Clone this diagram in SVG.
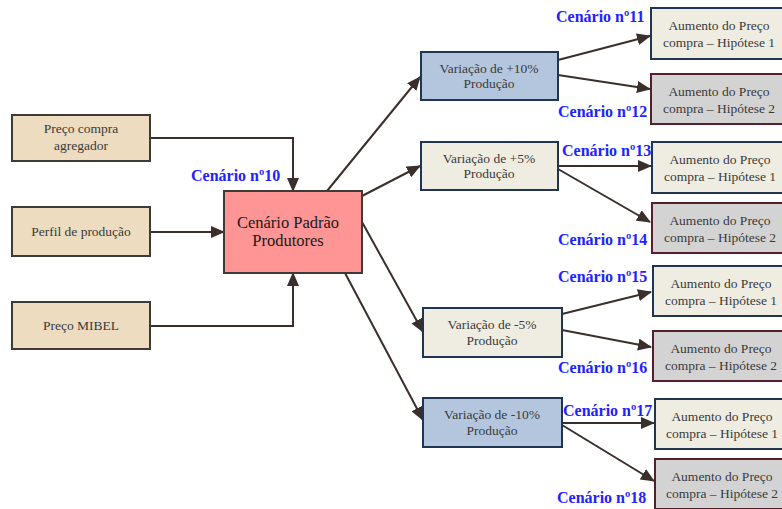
<svg xmlns="http://www.w3.org/2000/svg" width="782" height="509" viewBox="0 0 782 509">
  <defs>
    <marker id="arrow" markerUnits="userSpaceOnUse" markerWidth="14" markerHeight="12" viewBox="0 0 14 12" refX="13" refY="6" orient="auto">
      <path d="M0,0 L14,6 L0,12 Z" fill="#3a2f2a"/>
    </marker>
    <style>
      .input rect { fill: #eddcc0; stroke: #3e3a36; stroke-width: 2; }
      .core rect { fill: #ff9595; stroke: #3e3a36; stroke-width: 2; }
      .var-strong rect { fill: #b3c6de; stroke: #1f3553; stroke-width: 2; }
      .var-light rect { fill: #efede2; stroke: #1f3553; stroke-width: 2; }
      .hyp1 rect { fill: #efede2; stroke: #1f3553; stroke-width: 2; }
      .hyp2 rect { fill: #d4d3d3; stroke: #55202c; stroke-width: 2; }
      text { font-family: "Liberation Serif", "Times New Roman", serif; text-anchor: middle; }
      .lbl { font-size: 13.5px; fill: #3a3a3a; }
      .core-lbl { font-size: 16.5px; fill: #1a1a1a; }
      .sc { font-size: 16px; font-weight: bold; fill: #2222ff; text-anchor: start; }
      .links path { fill: none; stroke: #3a2f2a; stroke-width: 2; marker-end: url(#arrow); }
    </style>
  </defs>

  <rect width="782" height="509" fill="#ffffff"/>

  <!-- connectors -->
  <g class="links">
    <path d="M150,138 H293 V191"/>
    <path d="M150,232 H224"/>
    <path d="M150,326 H293 V273"/>
    <path d="M327,191 L420,77"/>
    <path d="M362,196 L420,166"/>
    <path d="M362,222 L423,332"/>
    <path d="M345,273 L423,420"/>
    <path d="M558,60 L650,36"/>
    <path d="M558,75 L650,89"/>
    <path d="M558,166 L651,166"/>
    <path d="M558,169 L650,222"/>
    <path d="M562,314 L651,292"/>
    <path d="M562,330 L651,347"/>
    <path d="M562,423 L654,423"/>
    <path d="M562,425 L654,481"/>
  </g>

  <!-- inputs -->
  <g id="preco-agregador" class="input">
    <rect x="12" y="115" width="138" height="46"/>
    <text class="lbl" x="81" y="133">Preço compra</text>
    <text class="lbl" x="81" y="150">agregador</text>
  </g>
  <g id="perfil-producao" class="input">
    <rect x="12" y="207" width="138" height="49"/>
    <text class="lbl" x="81" y="236">Perfil de produção</text>
  </g>
  <g id="preco-mibel" class="input">
    <rect x="12" y="302" width="138" height="47"/>
    <text class="lbl" x="81" y="330">Preço MIBEL</text>
  </g>

  <!-- base scenario -->
  <g id="cenario-padrao" class="core">
    <rect x="224" y="191" width="138" height="82"/>
    <text class="core-lbl" x="288" y="228">Cenário Padrão</text>
    <text class="core-lbl" x="288" y="246">Produtores</text>
  </g>
  <text class="sc" x="191" y="181">Cenário nº10</text>

  <!-- production variations -->
  <g id="var-mais-10" class="var-strong">
    <rect x="421" y="52" width="137" height="48"/>
    <text class="lbl" x="489" y="73">Variação de +10%</text>
    <text class="lbl" x="489" y="88">Produção</text>
  </g>
  <g id="var-mais-5" class="var-light">
    <rect x="421" y="142" width="137" height="48"/>
    <text class="lbl" x="489" y="163">Variação de +5%</text>
    <text class="lbl" x="489" y="178">Produção</text>
  </g>
  <g id="var-menos-5" class="var-light">
    <rect x="423" y="308" width="139" height="49"/>
    <text class="lbl" x="492" y="329">Variação de -5%</text>
    <text class="lbl" x="492" y="345">Produção</text>
  </g>
  <g id="var-menos-10" class="var-strong">
    <rect x="423" y="398" width="139" height="49"/>
    <text class="lbl" x="492" y="419">Variação de -10%</text>
    <text class="lbl" x="492" y="435">Produção</text>
  </g>

  <!-- price hypotheses -->
  <g id="h11" class="hyp1">
    <rect x="651" y="8" width="140" height="51"/>
    <text class="lbl" x="719" y="30">Aumento do Preço</text>
    <text class="lbl" x="719" y="47">compra – Hipótese 1</text>
  </g>
  <g id="h12" class="hyp2">
    <rect x="651" y="74" width="140" height="50"/>
    <text class="lbl" x="719" y="96">Aumento do Preço</text>
    <text class="lbl" x="719" y="113">compra – Hipótese 2</text>
  </g>
  <g id="h13" class="hyp1">
    <rect x="652" y="142" width="140" height="51"/>
    <text class="lbl" x="720" y="164">Aumento do Preço</text>
    <text class="lbl" x="720" y="181">compra – Hipótese 1</text>
  </g>
  <g id="h14" class="hyp2">
    <rect x="652" y="203" width="140" height="50"/>
    <text class="lbl" x="720" y="225">Aumento do Preço</text>
    <text class="lbl" x="720" y="242">compra – Hipótese 2</text>
  </g>
  <g id="h15" class="hyp1">
    <rect x="653" y="266" width="140" height="50"/>
    <text class="lbl" x="721" y="288">Aumento do Preço</text>
    <text class="lbl" x="721" y="305">compra – Hipótese 1</text>
  </g>
  <g id="h16" class="hyp2">
    <rect x="653" y="331" width="140" height="50"/>
    <text class="lbl" x="721" y="353">Aumento do Preço</text>
    <text class="lbl" x="721" y="370">compra – Hipótese 2</text>
  </g>
  <g id="h17" class="hyp1">
    <rect x="655" y="399" width="140" height="50"/>
    <text class="lbl" x="722" y="421">Aumento do Preço</text>
    <text class="lbl" x="722" y="438">compra – Hipótese 1</text>
  </g>
  <g id="h18" class="hyp2">
    <rect x="655" y="459" width="140" height="50"/>
    <text class="lbl" x="722" y="481">Aumento do Preço</text>
    <text class="lbl" x="722" y="498">compra – Hipótese 2</text>
  </g>

  <!-- scenario numbers -->
  <text class="sc" x="556" y="22">Cenário nº11</text>
  <text class="sc" x="558" y="117">Cenário nº12</text>
  <text class="sc" x="562" y="156">Cenário nº13</text>
  <text class="sc" x="558" y="245">Cenário nº14</text>
  <text class="sc" x="558" y="282">Cenário nº15</text>
  <text class="sc" x="558" y="373">Cenário nº16</text>
  <text class="sc" x="563" y="416">Cenário nº17</text>
  <text class="sc" x="557" y="503">Cenário nº18</text>
</svg>
